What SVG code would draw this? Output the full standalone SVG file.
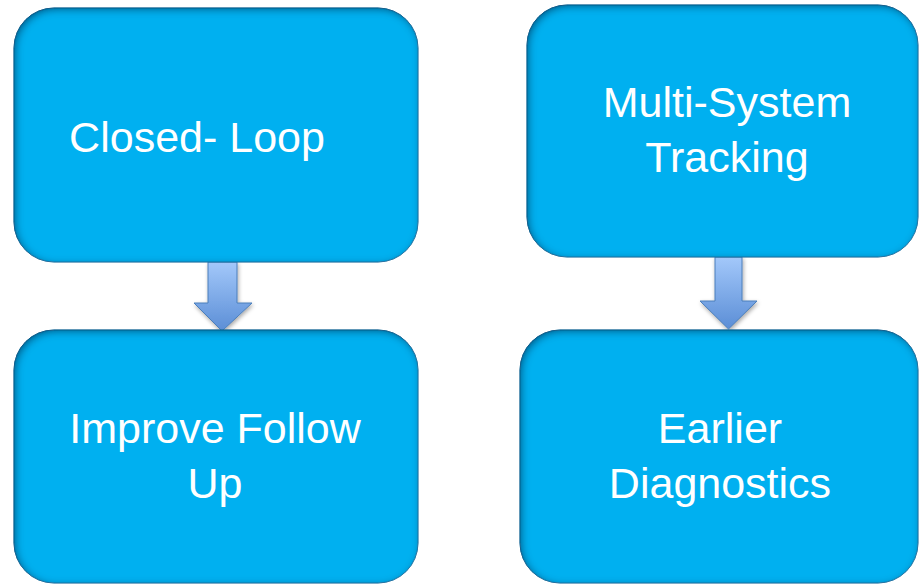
<svg xmlns="http://www.w3.org/2000/svg" width="919" height="585" viewBox="0 0 919 585">
<defs>
<style>
.box{fill:#00B0F0;stroke:#2F7FB0;stroke-width:1;filter:url(#inner)}
.lbl{font-family:"Liberation Sans",Arial,sans-serif;font-size:43px;fill:#FFFFFF;text-anchor:middle}
.arr{fill:url(#ag);stroke:#4A7EBB;stroke-width:1}
</style>
<linearGradient id="ag" x1="0" y1="0" x2="0" y2="1">
<stop offset="0" stop-color="#A3C8FA"/>
<stop offset="1" stop-color="#5B8ED6"/>
</linearGradient>
<filter id="inner" x="-5%" y="-5%" width="110%" height="110%">
<feFlood flood-color="#004570" flood-opacity="1"/>
<feComposite in2="SourceAlpha" operator="out"/>
<feGaussianBlur stdDeviation="4"/>
<feOffset dx="1.5" dy="2"/>
<feComposite in2="SourceAlpha" operator="in" result="sh"/>
<feMerge><feMergeNode in="SourceGraphic"/><feMergeNode in="sh"/></feMerge>
</filter>
<filter id="ashadow" x="-30%" y="-30%" width="160%" height="160%">
<feGaussianBlur in="SourceAlpha" stdDeviation="2"/>
<feOffset dx="1" dy="2"/>
<feComponentTransfer><feFuncA type="linear" slope="0.35"/></feComponentTransfer>
<feMerge><feMergeNode/><feMergeNode in="SourceGraphic"/></feMerge>
</filter>
</defs>
<rect width="919" height="585" fill="#FFFFFF"/>
<g id="connectors">
<path class="arr" filter="url(#ashadow)" d="M208,262 L237,262 L237,303 L252,303 L222,331 L194,303 L208,303 Z"/>
<path class="arr" filter="url(#ashadow)" d="M715,257 L742,257 L742,301 L757,301 L728.5,329 L700,301 L715,301 Z"/>
</g>
<g id="closed-loop">
<rect class="box" x="14" y="8" width="404" height="254" rx="40" ry="40"/>
<text class="lbl" x="197" y="152">Closed- Loop</text>
</g>
<g id="multi-system">
<rect class="box" x="527" y="5" width="391" height="252" rx="40" ry="40"/>
<text class="lbl" x="727" y="117">Multi-System</text>
<text class="lbl" x="727" y="172">Tracking</text>
</g>
<g id="improve-follow-up">
<rect class="box" x="14" y="330" width="404" height="253" rx="40" ry="40"/>
<text class="lbl" x="215" y="443">Improve Follow</text>
<text class="lbl" x="215" y="498">Up</text>
</g>
<g id="earlier-diagnostics">
<rect class="box" x="520" y="330" width="398" height="253" rx="40" ry="40"/>
<text class="lbl" x="720" y="443">Earlier</text>
<text class="lbl" x="720" y="498">Diagnostics</text>
</g>
</svg>
